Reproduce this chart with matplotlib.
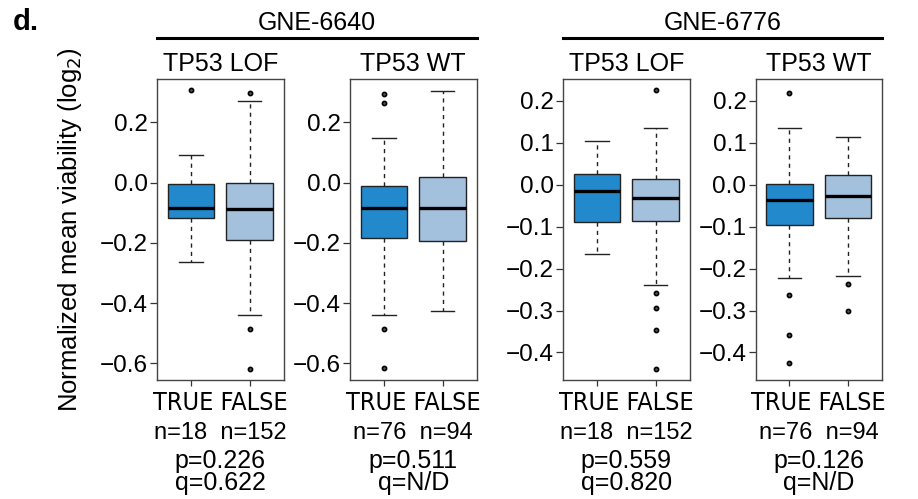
import os
import numpy as np
import matplotlib
matplotlib.use('Agg')
import matplotlib.pyplot as plt
from matplotlib import font_manager
from matplotlib.font_manager import FontProperties
from matplotlib.lines import Line2D

# box stats: [lower whisker, Q1, median, Q3, upper whisker]
groups = ['TRUE', 'FALSE']
gne6640_lof = [[-0.262, -0.118, -0.084, -0.003, 0.093],
               [-0.439, -0.189, -0.086, -0.002, 0.270]]
gne6640_wt = [[-0.440, -0.183, -0.085, -0.012, 0.147],
              [-0.425, -0.194, -0.085, 0.020, 0.303]]
gne6776_lof = [[-0.165, -0.089, -0.015, 0.026, 0.105],
               [-0.240, -0.087, -0.032, 0.013, 0.136]]
gne6776_wt = [[-0.222, -0.097, -0.036, 0.002, 0.136],
              [-0.217, -0.079, -0.026, 0.022, 0.113]]

# outliers (TRUE, FALSE)
gne6640_lof_out = [[0.307], [0.296, -0.487, -0.618]]
gne6640_wt_out = [[0.293, 0.263, -0.487, -0.616], []]
gne6776_lof_out = [[], [0.225, -0.258, -0.295, -0.347, -0.439]]
gne6776_wt_out = [[0.218, -0.262, -0.359, -0.426], [-0.237, -0.301]]

n_lof = [18, 152]
n_wt = [76, 94]
p_vals = ['0.226', '0.511', '0.559', '0.126']
q_vals = ['0.622', 'N/D', '0.820', 'N/D']

compounds = ['GNE-6640', 'GNE-6776']
yticks_6640 = [-0.6, -0.4, -0.2, 0.0, 0.2]
yticks_6776 = [-0.4, -0.3, -0.2, -0.1, 0.0, 0.1, 0.2]

col_true = '#2389cd'
col_false = '#a3c1dd'

plt.rcParams['font.family'] = ['Liberation Sans', 'DejaVu Sans']

# the TRUE/FALSE line is set in a condensed face; use one if we have it
narrow_files = [('LiberationSansNarrow-Regular.ttf', 1.15),
                ('NotoSans-ExtraCondensed.ttf', 1.2),
                ('NotoSans-Condensed.ttf', 1.05),
                ('DejaVuSansCondensed.ttf', 1.0),
                ('RobotoCondensed-Regular.ttf', 1.1)]
by_base = {os.path.basename(f.fname): f.fname for f in font_manager.fontManager.ttflist}
narrow_fp, narrow_scale = FontProperties(family='Liberation Sans'), 0.85
for base, sc in narrow_files:
    if base in by_base:
        narrow_fp, narrow_scale = FontProperties(fname=by_base[base]), sc
        break

panels = [
    ('TP53 LOF', gne6640_lof, gne6640_lof_out, n_lof, p_vals[0], q_vals[0], yticks_6640),
    ('TP53 WT', gne6640_wt, gne6640_wt_out, n_wt, p_vals[1], q_vals[1], yticks_6640),
    ('TP53 LOF', gne6776_lof, gne6776_lof_out, n_lof, p_vals[2], q_vals[2], yticks_6776),
    ('TP53 WT', gne6776_wt, gne6776_wt_out, n_wt, p_vals[3], q_vals[3], yticks_6776),
]

def rlim(plist):
    # R style: data range + 4% on each side
    vals = []
    for pn in plist:
        for k in range(2):
            vals += list(pn[1][k]) + list(pn[2][k])
    lo, hi = min(vals), max(vals)
    d = 0.04 * (hi - lo)
    return lo - d, hi + d

ylims = [rlim(panels[:2])] * 2 + [rlim(panels[2:])] * 2

W, H = 918, 499
fig = plt.figure(figsize=(W / 100, H / 100), dpi=100)

def fx(x):
    return x / W

def fy(y):
    return 1 - y / H

ax_left = [157, 350, 563, 755.5]
ax_w = 126.5
ax_top, ax_bot = 79, 380

for i, (title, stats, outl, ns, p, q, yt) in enumerate(panels):
    ax = fig.add_axes([fx(ax_left[i]), fy(ax_bot), ax_w / W, (ax_bot - ax_top) / H])
    bst = []
    for k in range(2):
        lo, q1, med, q3, hi = stats[k]
        bst.append(dict(whislo=lo, q1=q1, med=med, q3=q3, whishi=hi, fliers=outl[k]))
    bp = ax.bxp(bst, positions=[1, 2], widths=0.8, capwidths=0.4, patch_artist=True,
                boxprops=dict(edgecolor='#222222', linewidth=1.0),
                medianprops=dict(color='black', linewidth=2.4),
                whiskerprops=dict(color='#222222', linewidth=1.0, linestyle=(0, (3, 3))),
                capprops=dict(color='#222222', linewidth=1.0),
                flierprops=dict(marker='o', markersize=3.0, markerfacecolor='#555555',
                                markeredgecolor='black', markeredgewidth=1.2),
                manage_ticks=False)
    bp['boxes'][0].set_facecolor(col_true)
    bp['boxes'][1].set_facecolor(col_false)

    ax.set_xlim(0.42, 2.58)
    ax.set_ylim(*ylims[i])
    ax.set_yticks(yt)
    ax.set_xticks([1, 2])
    ax.set_xticklabels(['', ''])
    ax.tick_params(axis='y', length=5, width=0.9, pad=1.5, labelsize=17.5, color='#333333')
    ax.tick_params(axis='x', length=4.5, width=0.9, color='#333333')
    for s in ax.spines.values():
        s.set_color('#444444')
        s.set_linewidth(1.0)

    # group labels and counts written as one line under each panel
    xc = fx(ax_left[i] + ax_w / 2)
    fig.text(xc, fy(410), ' '.join(groups), ha='center', va='baseline',
             fontproperties=narrow_fp, fontsize=18 * narrow_scale)
    fig.text(xc, fy(439), 'n=%d  n=%d' % (ns[0], ns[1]), ha='center', va='baseline',
             fontsize=17)
    fig.text(xc, fy(468), 'p=' + p, ha='center', va='baseline', fontsize=18)
    fig.text(xc, fy(490), 'q=' + q, ha='center', va='baseline', fontsize=18)
    fig.text(xc, fy(70.7), title, ha='center', va='baseline', fontsize=18)

# compound headers with a rule underneath
for j, name in enumerate(compounds):
    x0 = ax_left[2 * j]
    x1 = ax_left[2 * j + 1] + ax_w
    fig.text(fx((x0 + x1) / 2), fy(30), name, ha='center', va='baseline', fontsize=18)
    fig.add_artist(Line2D([fx(x0), fx(x1)], [fy(37.5), fy(37.5)], color='black', lw=2.2))

fig.text(fx(70), fy((ax_top + ax_bot) / 2), 'Normalized mean viability (log$_2$)',
         rotation=90, ha='center', va='center', fontsize=18.5)
fig.text(fx(13), fy(29.5), 'd.', fontsize=21, fontweight='bold', va='baseline')

fig.savefig('out.png', dpi=100)
